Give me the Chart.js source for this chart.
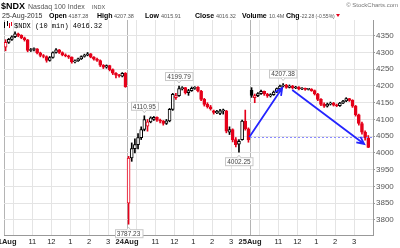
<!DOCTYPE html>
<html>
<head>
<meta charset="utf-8">
<script src="https://cdn.jsdelivr.net/npm/chart.js@4.4.1/dist/chart.umd.min.js"></script>
<style>
  html, body { margin: 0; padding: 0; background: #fff; }
</style>
</head>
<body>
<canvas id="myChart" width="400" height="248"></canvas>
<script>
// 10-minute bars, 21 Aug (0-38), 24 Aug (39-77), 25 Aug (78-115)
const opens = [
  4316, 4330, 4339, 4347, 4356, 4351, 4344, 4338, 4306, 4309, 4311, 4299, 4291, 4288, 4276, 4285, 4300, 4308, 4300, 4293,
  4290, 4286, 4272, 4275, 4281, 4288, 4292, 4296, 4286, 4280, 4276, 4262, 4256, 4261, 4249, 4238, 4232, 4229, 4238,
  3850, 3985, 4013, 4025, 4046, 4070, 4080, 4093, 4100, 4106, 4098, 4095, 4088, 4096, 4130, 4165, 4171, 4192, 4195, 4180,
  4186, 4193, 4196, 4185, 4160, 4145, 4138, 4126, 4120, 4118, 4126, 4126, 4062, 4070, 4040, 4026, 4040, 4095, 4072,
  4187.28, 4165, 4171, 4177, 4184, 4176, 4170, 4174, 4182, 4192, 4200, 4203, 4196, 4200, 4194, 4197, 4191, 4192, 4190,
  4191, 4186, 4176, 4160, 4145, 4140, 4146, 4149, 4143, 4141, 4149, 4155, 4162, 4157, 4140, 4114, 4088, 4062, 4045
];
const highs = [
  4338, 4342, 4350, 4362, 4358, 4353, 4346, 4339, 4312, 4314, 4312, 4301, 4294, 4290, 4288, 4302, 4312, 4309, 4302, 4296,
  4292, 4287, 4278, 4283, 4290, 4295, 4300, 4297, 4288, 4283, 4278, 4264, 4263, 4262, 4251, 4240, 4235, 4240, 4240,
  3990, 4030, 4042, 4058, 4078, 4110.95, 4100, 4108, 4109, 4108, 4101, 4097, 4100, 4133, 4178, 4178, 4199.79, 4198, 4196, 4190,
  4197, 4198, 4198, 4187, 4163, 4150, 4142, 4128, 4127, 4130, 4131, 4127, 4078, 4072, 4046, 4040, 4098, 4128, 4075,
  4195, 4176, 4180, 4188, 4185, 4178, 4177, 4185, 4194, 4203, 4207.38, 4205, 4203, 4202, 4199, 4198, 4195, 4194, 4193,
  4192, 4188, 4178, 4162, 4150, 4149, 4152, 4151, 4146, 4151, 4157, 4165, 4163, 4159, 4142, 4116, 4092, 4066, 4052
];
const lows = [
  4305, 4327, 4336, 4344, 4347, 4341, 4334, 4302, 4303, 4305, 4296, 4287, 4284, 4271, 4274, 4283, 4298, 4297, 4290, 4287,
  4282, 4268, 4269, 4273, 4279, 4286, 4290, 4284, 4277, 4273, 4258, 4252, 4253, 4245, 4234, 4224, 4226, 4227, 4196,
  3787.23, 3975, 4000, 4012, 4040, 4066, 4065, 4090, 4097, 4094, 4090, 4083, 4085, 4093, 4127, 4160, 4169, 4188, 4176, 4172,
  4184, 4190, 4182, 4156, 4140, 4134, 4128, 4116, 4117, 4114, 4116, 4060, 4055, 4033, 4018, 4002.25, 4038, 4068, 4032,
  4166, 4150, 4168, 4175, 4172, 4166, 4167, 4172, 4180, 4190, 4197, 4193, 4194, 4191, 4192, 4188, 4189, 4187, 4188,
  4184, 4173, 4156, 4141, 4136, 4137, 4143, 4140, 4138, 4139, 4147, 4153, 4154, 4136, 4110, 4083, 4056, 4038, 4015.91
];
const closes = [
  4330, 4339, 4347, 4356, 4351, 4344, 4338, 4306, 4309, 4311, 4299, 4291, 4288, 4276, 4285, 4300, 4308, 4300, 4293, 4290,
  4286, 4272, 4275, 4281, 4288, 4292, 4296, 4286, 4280, 4276, 4262, 4256, 4261, 4249, 4238, 4232, 4230, 4238, 4198,
  3985, 4013, 4025, 4046, 4070, 4100, 4093, 4105, 4106, 4098, 4095, 4088, 4096, 4130, 4175, 4171, 4192, 4195, 4180, 4186,
  4193, 4196, 4185, 4160, 4145, 4138, 4132, 4121, 4124, 4126, 4127, 4065, 4070, 4040, 4025, 4035, 4095, 4072, 4038.6,
  4172, 4171, 4177, 4184, 4176, 4170, 4174, 4182, 4192, 4200, 4203, 4196, 4200, 4194, 4197, 4191, 4192, 4190, 4191,
  4186, 4176, 4160, 4145, 4140, 4146, 4149, 4143, 4141, 4149, 4155, 4162, 4157, 4140, 4114, 4088, 4062, 4045, 4016.32
];
const priorClose = 4345;
const volumeText = "10.4M";

const dayLabels = ["21Aug", "24Aug", "25Aug"];
const barsPerDay = 39;
const hourLabels = ["11", "12", "1", "2", "3"];
const hourOffsets = [9, 15, 21, 27, 33];
const tenAmOffset = 3;
const yTicks = [3800, 3850, 3900, 3950, 4000, 4050, 4100, 4150, 4200, 4250, 4300, 4350];

// swing labels and hand drawn lines (bar index, price)
const markHighBars = [44, 55, 88];
const markLowBars = [39, 74];
const arrowLines = [
  [[77.8, 4048], [88.2, 4194]],
  [[91.4, 4188], [114.2, 4027]]
];
const dottedLine = [[78, 4048], [117, 4048]];

const RED = "#e5001a";
const FONT = "'Liberation Sans', Arial, sans-serif";

function lineColor(i) {
  const prev = i === 0 ? priorClose : closes[i - 1];
  return closes[i] >= prev ? "#000000" : RED;
}
function bodyFill(i) {
  return closes[i] >= opens[i] ? "#ffffff" : lineColor(i);
}

const bodyData = closes.map(function (c, i) { return { x: i + 0.5, y: [opens[i], c] }; });
const wickData = highs.map(function (h, i) { return { x: i + 0.5, y: [lows[i], h] }; });

const xGrid = [];
dayLabels.forEach(function (d, k) {
  xGrid.push(k * barsPerDay, k * barsPerDay + tenAmOffset);
  hourOffsets.forEach(function (o) { xGrid.push(k * barsPerDay + o); });
});

function priceBox(ctx, text, cx, py, above) {
  ctx.font = "6.5px " + FONT;
  const w = ctx.measureText(text).width + 4;
  const h = 8;
  const top = above ? py - 6 - h : py + 5;
  ctx.fillStyle = "#ffffff";
  ctx.strokeStyle = "#c8c8c8";
  ctx.lineWidth = 1;
  ctx.fillRect(Math.round(cx - w / 2) + 0.5, top + 0.5, w, h);
  ctx.strokeRect(Math.round(cx - w / 2) + 0.5, top + 0.5, w, h);
  ctx.beginPath();
  if (above) {
    ctx.moveTo(cx - 2, top + h + 0.5); ctx.lineTo(cx, top + h + 3); ctx.lineTo(cx + 2, top + h + 0.5);
  } else {
    ctx.moveTo(cx - 2, top + 0.5); ctx.lineTo(cx, top - 2); ctx.lineTo(cx + 2, top + 0.5);
  }
  ctx.fillStyle = "#ffffff";
  ctx.fill();
  ctx.stroke();
  ctx.fillStyle = "#444";
  ctx.textAlign = "center";
  ctx.textBaseline = "middle";
  ctx.fillText(text, cx, top + h / 2 + 1);
}

const overlay = {
  id: "overlay",
  afterDraw: function (chart) {
    const ctx = chart.ctx;
    const xs = chart.scales.x;
    const ys = chart.scales.y;
    const px = function (v) { return xs.getPixelForValue(v); };
    const py = function (v) { return ys.getPixelForValue(v); };
    ctx.save();

    // x labels
    ctx.textBaseline = "middle";
    ctx.textAlign = "center";
    ctx.fillStyle = "#222";
    dayLabels.forEach(function (d, k) {
      ctx.font = "bold 7.5px " + FONT;
      ctx.fillText(d, px(k * barsPerDay) + (k === 0 ? 1 : 0), 242);
      ctx.font = "7.5px " + FONT;
      hourLabels.forEach(function (h, j) {
        ctx.fillText(h, px(k * barsPerDay + hourOffsets[j]), 242);
      });
    });

    // dotted line
    ctx.strokeStyle = "#8a8aff";
    ctx.lineWidth = 1;
    ctx.setLineDash([2, 2]);
    ctx.beginPath();
    ctx.moveTo(px(dottedLine[0][0]), Math.round(py(dottedLine[0][1])) + 0.5);
    ctx.lineTo(px(dottedLine[1][0]), Math.round(py(dottedLine[1][1])) + 0.5);
    ctx.stroke();
    ctx.setLineDash([]);

    // arrows
    ctx.strokeStyle = "#2424ff";
    ctx.lineWidth = 1.8;
    arrowLines.forEach(function (a) {
      const x1 = px(a[0][0]), y1 = py(a[0][1]), x2 = px(a[1][0]), y2 = py(a[1][1]);
      const ang = Math.atan2(y2 - y1, x2 - x1);
      ctx.beginPath();
      ctx.moveTo(x1, y1);
      ctx.lineTo(x2, y2);
      ctx.moveTo(x2 - 8 * Math.cos(ang - 0.45), y2 - 8 * Math.sin(ang - 0.45));
      ctx.lineTo(x2, y2);
      ctx.lineTo(x2 - 8 * Math.cos(ang + 0.45), y2 - 8 * Math.sin(ang + 0.45));
      ctx.stroke();
    });

    // swing labels
    markHighBars.forEach(function (i) { priceBox(ctx, highs[i].toFixed(2), px(i + 0.5), py(highs[i]), true); });
    markLowBars.forEach(function (i) { priceBox(ctx, lows[i].toFixed(2), px(i + 0.5), py(lows[i]), false); });

    // legend inside plot
    ctx.fillStyle = "#000";
    ctx.fillRect(4, 22, 1, 6);
    ctx.fillRect(7, 21, 1, 5);
    ctx.fillStyle = RED;
    ctx.fillRect(9, 23, 1, 5);
    ctx.fillRect(11, 22, 1, 4);
    ctx.fillStyle = "#000";
    ctx.textAlign = "left";
    ctx.textBaseline = "alphabetic";
    ctx.font = "7px 'Liberation Mono', 'DejaVu Sans Mono', monospace";
    ctx.fillText("$NDX (10 min) " + closes[closes.length - 1].toFixed(2), 14, 27.5);

    // header
    const last = closes.length - 1;
    const dayOpen = opens[2 * barsPerDay];
    const dayHigh = Math.max.apply(null, highs.slice(2 * barsPerDay));
    const dayLow = Math.min.apply(null, lows.slice(2 * barsPerDay));
    const prevDayClose = closes[2 * barsPerDay - 1];
    const chg = closes[last] - prevDayClose;
    const pct = chg / prevDayClose * 100;

    ctx.font = "bold 9px " + FONT;
    ctx.fillText("$NDX", 1, 9);
    ctx.fillStyle = "#555";
    ctx.font = "7px " + FONT;
    ctx.fillText("Nasdaq 100 Index", 28, 9);
    ctx.font = "5.5px " + FONT;
    ctx.fillText("INDX", 92, 9);
    ctx.fillStyle = "#777";
    ctx.textAlign = "right";
    ctx.font = "6px " + FONT;
    ctx.fillText("\u00a9 StockCharts.com", 398, 7);
    ctx.textAlign = "left";

    const row = [
      ["25-Aug-2015", 2, "7px", "#333"],
      ["Open", 49, "bold 7px", "#000"], [dayOpen.toFixed(2), 68.5, "5.5px", "#555"],
      ["High", 97, "bold 7px", "#000"], [dayHigh.toFixed(2), 114, "5.5px", "#555"],
      ["Low", 145, "bold 7px", "#000"], [dayLow.toFixed(2), 161, "5.5px", "#555"],
      ["Close", 195, "bold 7px", "#000"], [closes[last].toFixed(2), 216, "5.5px", "#555"],
      ["Volume", 242, "bold 7px", "#000"], [volumeText, 269, "5.5px", "#555"],
      ["Chg", 286, "bold 7px", "#000"],
      [chg.toFixed(2) + " (" + pct.toFixed(2) + "%)", 300, "5px", "#555"]
    ];
    row.forEach(function (r) {
      ctx.font = r[2] + " " + FONT;
      ctx.fillStyle = r[3];
      ctx.fillText(r[0], r[1], 17.5);
    });
    ctx.fillStyle = RED;
    ctx.beginPath();
    ctx.moveTo(336, 14); ctx.lineTo(340, 14); ctx.lineTo(338, 17); ctx.closePath();
    ctx.fill();

    ctx.restore();
  }
};

const ctx = document.getElementById("myChart").getContext("2d");
const myChart = new Chart(ctx, {
  type: "bar",
  data: {
    datasets: [
      {
        data: bodyData,
        backgroundColor: closes.map(function (c, i) { return bodyFill(i); }),
        borderColor: closes.map(function (c, i) { return lineColor(i); }),
        borderWidth: 1,
        borderSkipped: false,
        barThickness: 3,
        minBarLength: 1,
        grouped: false,
        order: 1
      },
      {
        data: wickData,
        backgroundColor: closes.map(function (c, i) { return lineColor(i); }),
        borderWidth: 0,
        barThickness: 1,
        grouped: false,
        order: 2
      }
    ]
  },
  options: {
    responsive: false,
    animation: false,
    layout: { padding: { top: 20, left: 4, right: 0, bottom: 0 } },
    plugins: { legend: { display: false }, tooltip: { enabled: false } },
    scales: {
      x: {
        type: "linear",
        min: 0,
        max: barsPerDay * 3,
        offset: false,
        afterBuildTicks: function (s) { s.ticks = xGrid.map(function (v) { return { value: v }; }); },
        afterFit: function (s) { s.height = 13; },
        grid: {
          offset: false,
          drawTicks: false,
          color: function (c) { return c.tick && c.tick.value % barsPerDay === 0 ? "#b4b4b4" : "#e4e4e4"; }
        },
        border: { color: "#999" },
        ticks: { display: false }
      },
      y: {
        position: "right",
        min: 3755,
        max: 4397,
        afterBuildTicks: function (s) { s.ticks = yTicks.map(function (v) { return { value: v }; }); },
        afterFit: function (s) { s.width = 27; },
        grid: { color: "#e4e4e4", tickLength: 2, tickColor: "#999" },
        border: { color: "#999" },
        ticks: {
          color: "#555",
          padding: 1,
          font: { family: FONT, size: 8 },
          callback: function (v) { return String(v); }
        }
      }
    }
  },
  plugins: [overlay]
});
</script>
</body>
</html>
